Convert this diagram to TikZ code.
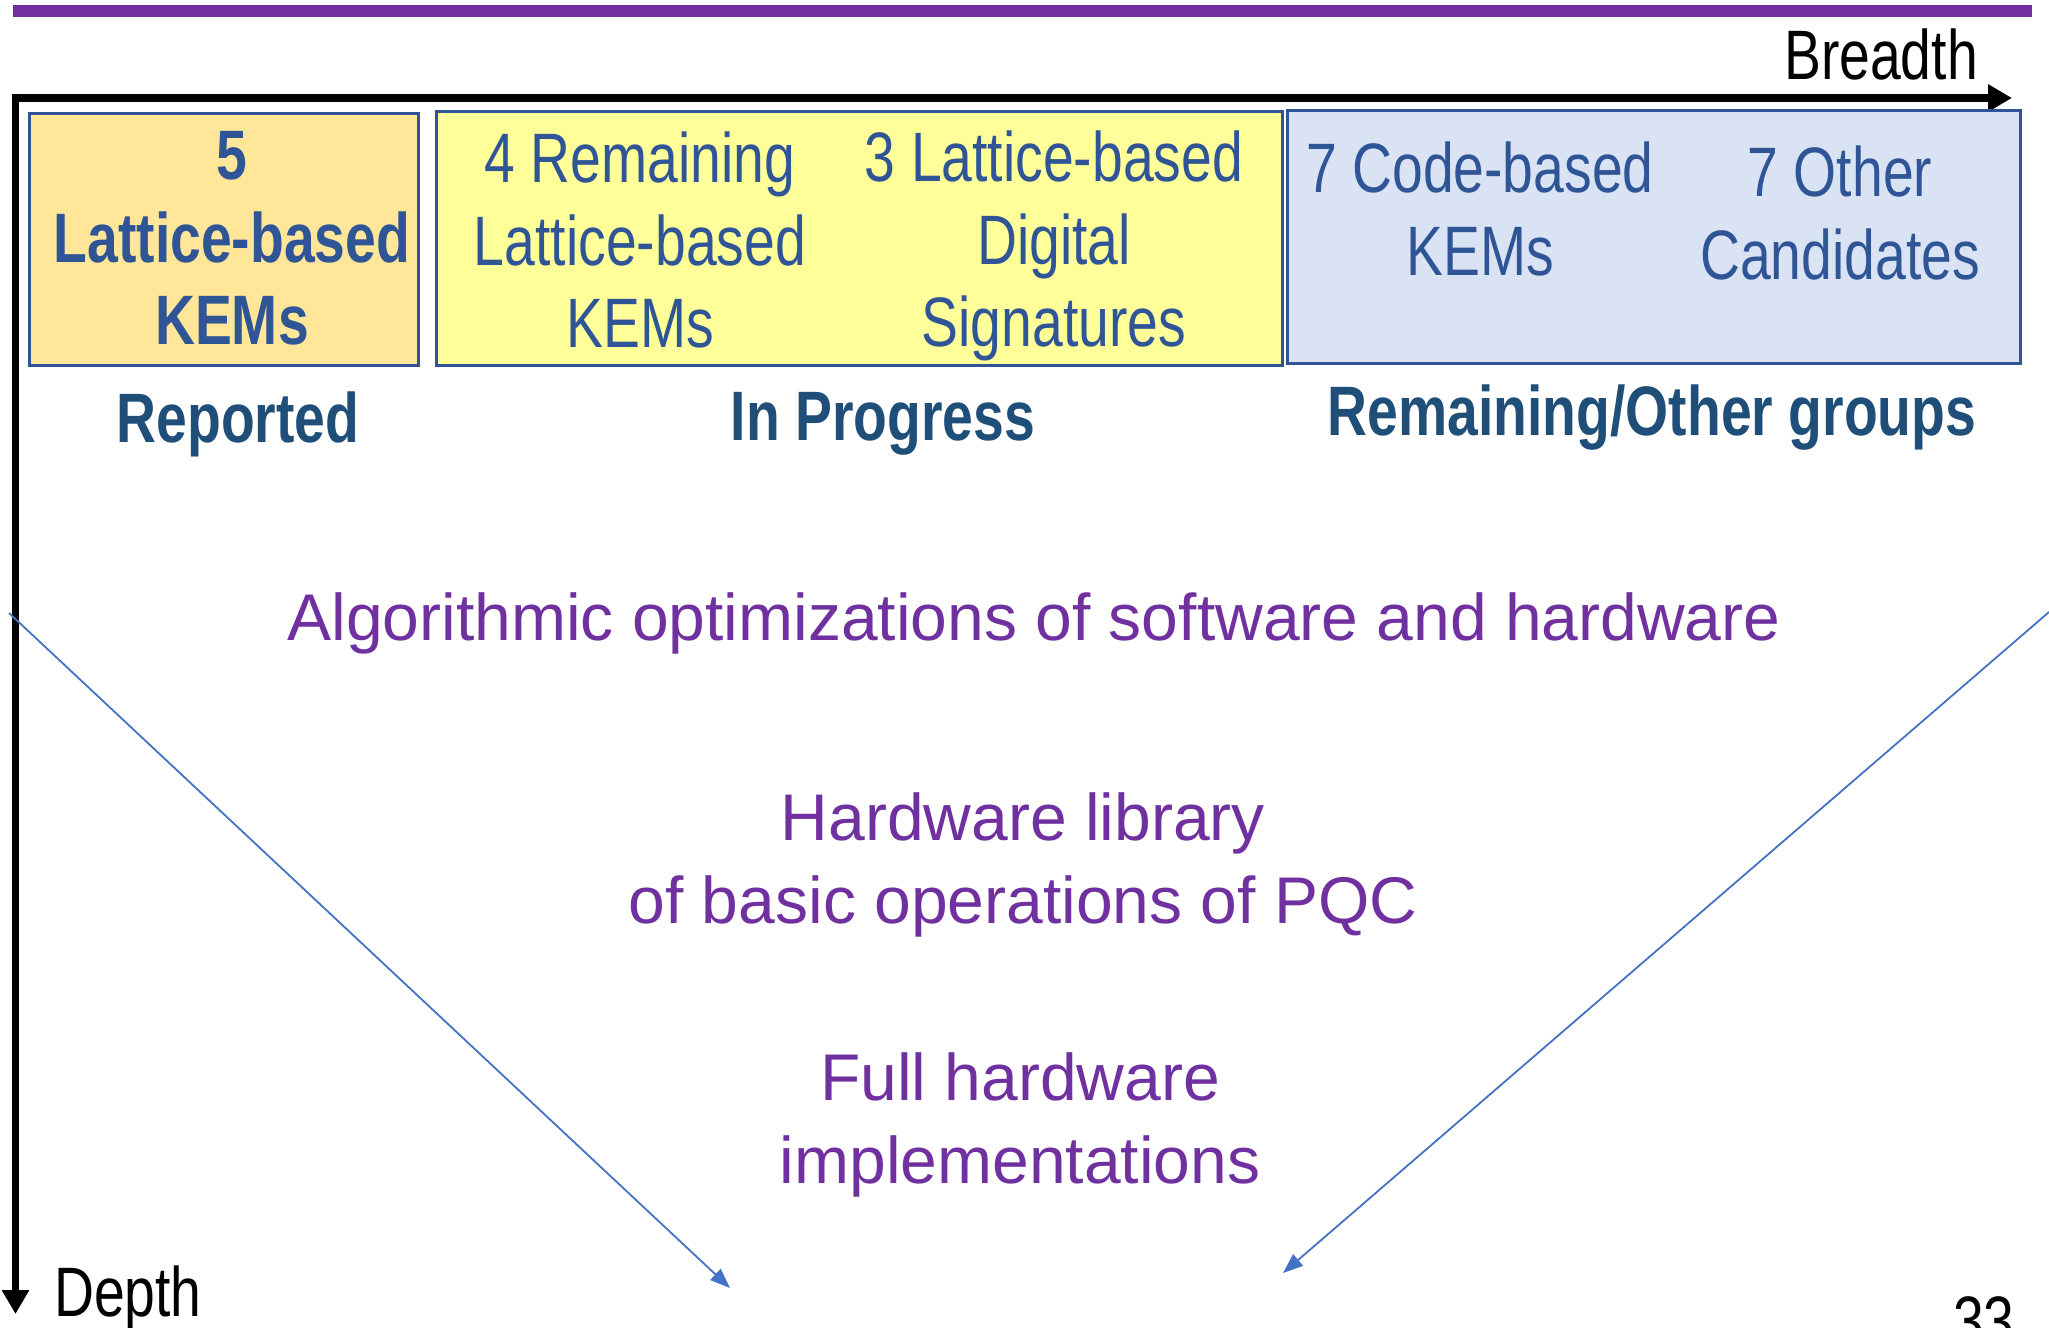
\documentclass[tikz,border=0pt]{standalone}
\usepackage{fontspec}
\setmainfont{Liberation Sans}
\newfontfamily\narrowfont[FakeStretch=0.79]{Liberation Sans}
\usetikzlibrary{arrows.meta}
\definecolor{slidepurple}{HTML}{7030A0}
\definecolor{textblue}{HTML}{2F5597}
\definecolor{labelblue}{HTML}{1F4E79}
\definecolor{boxborder}{HTML}{2F5597}
\definecolor{orangefill}{HTML}{FFE699}
\definecolor{yellowfill}{HTML}{FFFF99}
\definecolor{bluefill}{HTML}{DAE3F3}
\definecolor{arrowblue}{HTML}{4472C4}
\begin{document}
\begin{tikzpicture}[x=1pt,y=-1pt,
  groupbox/.style={draw=boxborder, line width=3pt, inner sep=0pt, outer sep=0pt, anchor=north west},
  boxtext/.style={font=\narrowfont\fontsize{70}{82.5}\selectfont, text=textblue, align=center, inner sep=0pt, anchor=north},
  grouplabel/.style={font=\narrowfont\bfseries\fontsize{70}{82.5}\selectfont, text=labelblue, inner sep=0pt, anchor=base},
  purpletext/.style={font=\fontsize{66}{83}\selectfont, text=slidepurple, align=center, inner sep=0pt},
  axislabel/.style={font=\narrowfont\fontsize{70}{82}\selectfont, text=black, inner sep=0pt},
  axis/.style={line width=7.5pt, -{Triangle[length=24pt,width=26pt]}},
  pointer/.style={draw=arrowblue, line width=1.8pt, -{Triangle[length=20pt,width=15pt]}, arrowblue}
]
\clip (0,0) rectangle (2049,1327);

% top purple rule
\fill[slidepurple] (13,5) rectangle (2032,17);

% axes
\coordinate (origin) at (15.5,98);
\coordinate (breadthend) at (2012,98);
\coordinate (depthend) at (15.5,1314);
\draw[axis] ([xshift=-3.75pt]origin) -- (breadthend);
\draw[axis] (origin) -- (depthend);
\node[axislabel, anchor=base east] (breadth) at (1978,80) {Breadth};
\node[axislabel, anchor=base west] (depth) at (54,1316) {Depth};

% group boxes
\node[groupbox, fill=orangefill, minimum width=389pt, minimum height=251pt] (repbox) at (29,114) {};
\node[groupbox, fill=yellowfill, minimum width=846pt, minimum height=253pt] (progbox) at (436.5,112) {};
\node[groupbox, fill=bluefill, minimum width=733pt, minimum height=252pt] (restbox) at (1287,111) {};

% box texts
\node[boxtext, font=\narrowfont\bfseries\fontsize{70}{82.5}\selectfont] (rep1) at (232,122) {\strut 5\\\strut Lattice-based\\\strut KEMs};
\node[boxtext] (prog1) at (640,125) {\strut 4 Remaining\\\strut Lattice-based\\\strut KEMs};
\node[boxtext] (prog2) at (1054,124) {\strut 3 Lattice-based\\\strut Digital\\\strut Signatures};
\node[boxtext] (rest1) at (1480,135) {\strut 7 Code-based\\\strut KEMs};
\node[boxtext] (rest2) at (1840,139) {\strut 7 Other\\\strut Candidates};

% group labels
\node[grouplabel] (replabel) at (238,442) {Reported};
\node[grouplabel] (proglabel) at (883,440) {In Progress};
\node[grouplabel] (restlabel) at (1652,435) {Remaining/Other groups};

% purple texts
\node[purpletext, anchor=base] (algo) at (1034,640) {Algorithmic optimizations of software and hardware};
\node[purpletext, anchor=north] (hwlib) at (1023,782) {\strut Hardware library\\\strut of basic operations of PQC};
\node[purpletext, anchor=north] (fullhw) at (1020,1042) {\strut Full hardware\\\strut implementations};

% blue pointers
\coordinate (lstart) at (9,613);
\coordinate (ltip) at (730,1288);
\coordinate (rstart) at (2049,612);
\coordinate (rtip) at (1283,1273);
\draw[pointer] (lstart) -- (ltip);
\draw[pointer] (rstart) -- (rtip);

% page number
\node[axislabel, anchor=base west] (pagenum) at (1953,1345) {33};
\end{tikzpicture}
\end{document}
